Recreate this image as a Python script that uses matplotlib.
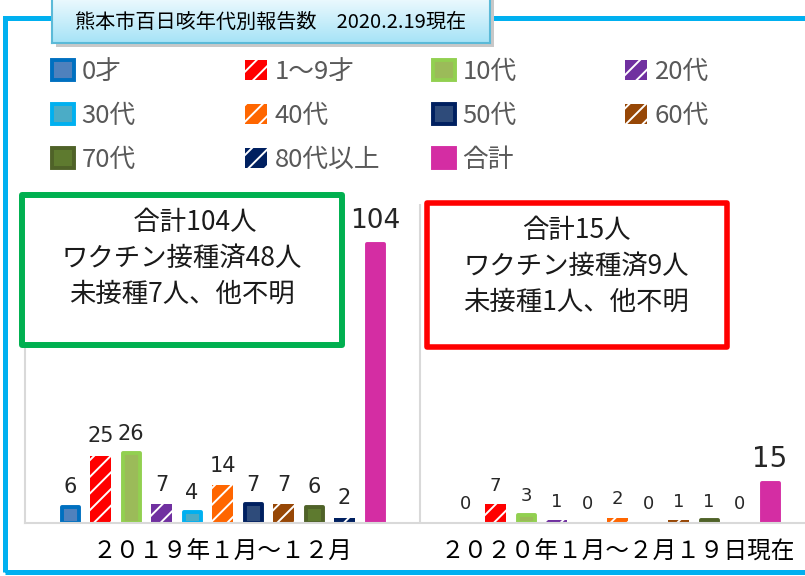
import matplotlib.pyplot as plt
import numpy as np
from matplotlib.patches import Rectangle
from matplotlib.colors import LinearSegmentedColormap

plt.rcParams['font.family'] = ['Noto Sans CJK JP', 'DejaVu Sans']
plt.rcParams['hatch.color'] = 'white'
plt.rcParams['hatch.linewidth'] = 1.4

periods = ['２０１９年１月～１２月', '２０２０年１月～２月１９日現在']
ages = ['0才', '1～9才', '10代', '20代', '30代', '40代', '50代', '60代', '70代', '80代以上', '合計']
counts_2019 = [6, 25, 26, 7, 4, 14, 7, 7, 6, 2, 104]
counts_2020 = [0, 7, 3, 1, 0, 2, 0, 1, 1, 0, 15]

face_colors = ['#4F81BD', '#FF0000', '#9BBB59', '#7030A0', '#4BACC6', '#FF6600',
               '#2E4B7A', '#974706', '#5E7A2F', '#002060', '#D42DA3']
edge_colors = ['#0070C0', None, '#92D050', None, '#00B0F0', None,
               '#002060', None, '#4F6228', None, '#D42DA3']
hatched = [False, True, False, True, False, True, False, True, False, True, False]

W, H = 805, 576
fig = plt.figure(figsize=(W / 100, H / 100), dpi=100)

# outer blue frame
fig.add_artist(Rectangle((5 / W, 1 - 572 / H), 815 / W, 554 / H, transform=fig.transFigure,
                         fill=False, edgecolor='#00B0F0', linewidth=3.6, zorder=-1))

ax = fig.add_axes([25 / W, 1 - 523 / H, 780 / W, 319 / H])
x = np.arange(len(periods))
px = 1 / 395  # one pixel in data units
step = 30.5 * px

containers = []
for i, age in enumerate(ages):
    vals = [counts_2019[i], counts_2020[i]]
    pos = x + (i - 5) * step
    if hatched[i]:
        b = ax.bar(pos, vals, width=21 * px, color=face_colors[i], hatch='//',
                   linewidth=0, label=age)
    else:
        lw = [0 if v == 0 else 2.8 for v in vals]
        b = ax.bar(pos, vals, width=17 * px, facecolor=face_colors[i],
                   edgecolor=edge_colors[i], linewidth=lw, joinstyle='round', label=age)
    containers.append(b)
    txt = ax.bar_label(b, padding=7, fontsize=15, color='#262626', family='DejaVu Sans')
    txt[1].set_fontsize(13)
    if age == '合計':
        txt[0].set_fontsize(19)
        txt[1].set_fontsize(20)

ax.set_xlim(-0.5, -0.5 + 780 * px)
ax.set_ylim(0, 119)
ax.set_yticks([])
ax.set_xticks(x, periods, fontsize=17, color='black')
ax.tick_params(axis='x', length=0, pad=13)
for s in ['top', 'right']:
    ax.spines[s].set_visible(False)
for s in ['left', 'bottom']:
    ax.spines[s].set_color('#D9D9D9')
    ax.spines[s].set_linewidth(1.5)
ax.axvline(0.5, color='#D9D9D9', linewidth=1.5)

# legend, laid out row by row in four columns
columns = [[0, 4, 8], [1, 5, 9], [2, 6, 10], [3, 7]]
col_x = [52, 245, 433, 625]
for c, idx in enumerate(columns):
    fig.legend([containers[k] for k in idx], [ages[k] for k in idx], loc='upper left',
               bbox_to_anchor=(col_x[c] / W, 1 - 59 / H), frameon=False, fontsize=18.5,
               labelcolor='#595959', handlelength=0.85, handleheight=0.85,
               handletextpad=0.3, labelspacing=0.7, borderpad=0, borderaxespad=0)

# title box
fig.add_artist(Rectangle((56 / W, 1 - 47 / H), 438 / W, 47 / H, transform=fig.transFigure,
                         facecolor='#C8C8C8', edgecolor='none', zorder=4))
tax = fig.add_axes([52 / W, 1 - 43 / H, 438 / W, 46 / H], zorder=5)
cmap = LinearSegmentedColormap.from_list('tb', ['#EEFAFE', '#A6E3F7'])
tax.imshow(np.linspace(0, 1, 60).reshape(-1, 1), aspect='auto', cmap=cmap, extent=[0, 1, 0, 1])
tax.set_xticks([])
tax.set_yticks([])
for s in tax.spines.values():
    s.set_color('#5BBAD8')
    s.set_linewidth(1.5)
tax.text(0.5, 0.45, '熊本市百日咳年代別報告数　2020.2.19現在', ha='center', va='center',
         fontsize=14.5, color='black', transform=tax.transAxes)

# note boxes
fig.add_artist(Rectangle((22 / W, 1 - 345 / H), 320 / W, 150 / H, transform=fig.transFigure,
                         facecolor='white', edgecolor='#00B050', linewidth=4.3,
                         joinstyle='round', zorder=3))
fig.add_artist(Rectangle((427 / W, 1 - 347 / H), 300 / W, 144 / H, transform=fig.transFigure,
                         facecolor='white', edgecolor='#FF0000', linewidth=4.0,
                         joinstyle='round', zorder=3))
green_lines = ['　合計104人', 'ワクチン接種済48人', '未接種7人、他不明']
red_lines = ['合計15人', 'ワクチン接種済9人', '未接種1人、他不明']
for k, (g, r) in enumerate(zip(green_lines, red_lines)):
    fig.text(182 / W, 1 - (222 + 36 * k) / H, g, ha='center', va='center',
             fontsize=19, color='#1A1A1A', zorder=6)
    fig.text(576 / W, 1 - (230 + 36 * k) / H, r, ha='center', va='center',
             fontsize=19, color='#1A1A1A', zorder=6)

fig.savefig('out.png', dpi=100)
